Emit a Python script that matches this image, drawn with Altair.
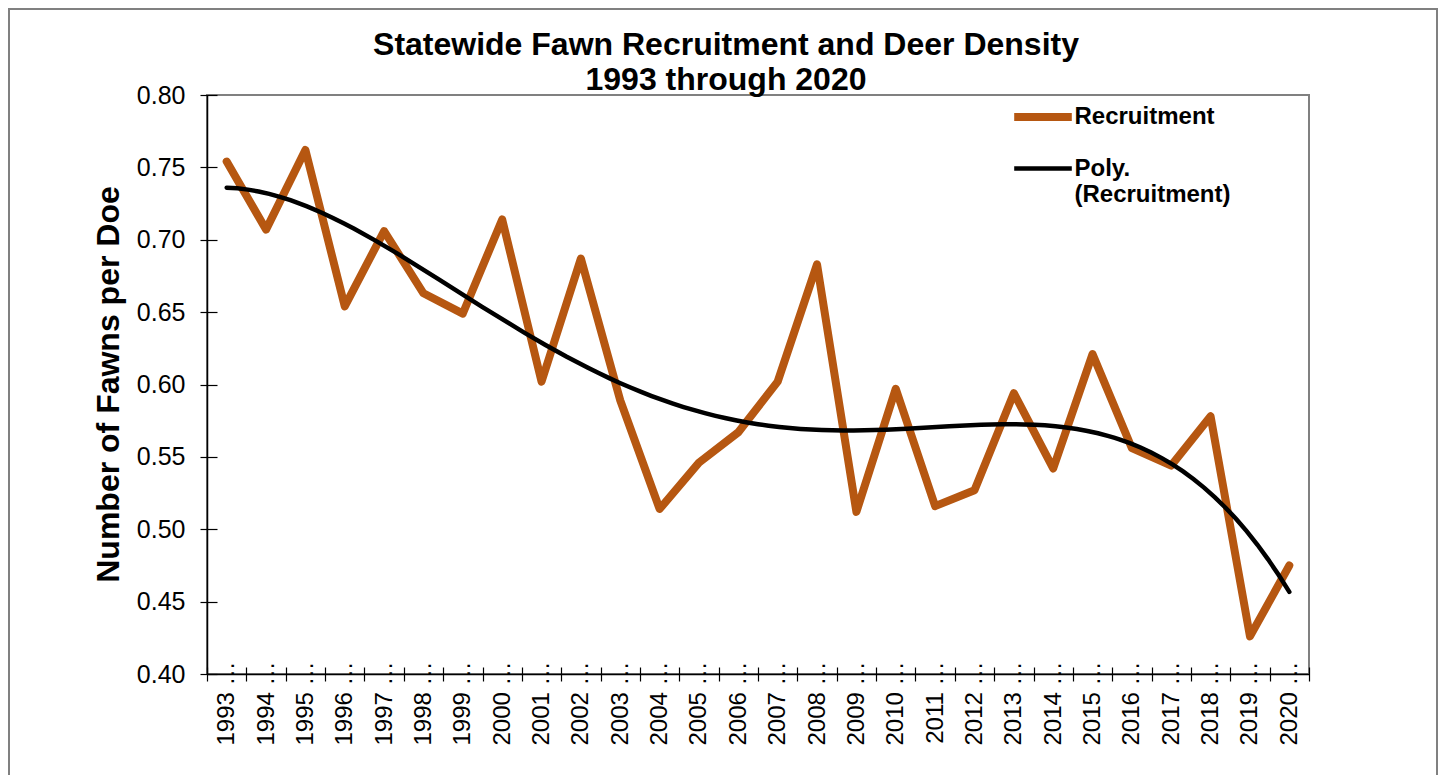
import json
import altair as alt
import pandas as pd

FONT = "Liberation Sans"

years = list(range(1993, 2021))
recruitment = [0.754, 0.707, 0.762, 0.654, 0.706, 0.663, 0.649, 0.714, 0.602, 0.687,
               0.589, 0.514, 0.546, 0.567, 0.602, 0.683, 0.512, 0.597, 0.516, 0.527,
               0.594, 0.542, 0.621, 0.556, 0.544, 0.578, 0.426, 0.475]
year_labels = ["1993 …", "1994 …", "1995 …", "1996 …", "1997 …", "1998 …", "1999 …",
               "2000 …", "2001 …", "2002 …", "2003 …", "2004 …", "2005 …", "2006 …",
               "2007 …", "2008 …", "2009 …", "2010 …", "2011 …", "2012 …", "2013 …",
               "2014 …", "2015 …", "2016 …", "2017 …", "2018 …", "2019 …", "2020 …"]
y_ticks = [0.40, 0.45, 0.50, 0.55, 0.60, 0.65, 0.70, 0.75, 0.80]
x_bounds = [1992.5 + i for i in range(29)]
series_names = ["Recruitment", "Poly. (Recruitment)"]
series_colors = ["#B65711", "#000000"]
series_widths = [8, 4.5]
title_lines = ["Statewide Fawn Recruitment and Deer Density", "1993 through 2020"]

df = pd.DataFrame({"year": years, "value": recruitment, "series": "Recruitment"})

x_scale = alt.Scale(domain=[1992.5, 2020.5], nice=False, zero=False)
y_scale = alt.Scale(domain=[0.40, 0.80], nice=False, zero=False)

label_expr = json.dumps(year_labels, ensure_ascii=False) + "[datum.value - 1993]"

legend = alt.Legend(
    title=None, orient="none", legendX=824, legendY=10,
    symbolType="M-14.4,0H14.4", symbolSize=16,
    labelFont=FONT, labelFontSize=24, labelFontWeight="bold", labelColor="black",
    labelOffset=19.5, rowPadding=23.5, padding=0, labelLimit=400,
    labelExpr="datum.label == 'Poly. (Recruitment)' ? ['Poly.', '(Recruitment)'] : datum.label",
)

color = alt.Color("series:N", scale=alt.Scale(domain=series_names, range=series_colors), legend=legend)
stroke_w = alt.StrokeWidth(
    "series:N",
    scale=alt.Scale(type="point", padding=0, domain=series_names, range=series_widths),
    legend=legend,
)

x_main = alt.Axis(
    values=years, labelExpr=label_expr, title=None, ticks=True, tickSize=0,
    tickOpacity=0, grid=False,
    domainColor="black", domainWidth=1.5, labelAngle=-90, labelAlign="right",
    labelBaseline="middle", labelPadding=-13, labelFont=FONT, labelFontSize=24,
    labelColor="black", orient="bottom", zindex=2,
)
y_main = alt.Axis(
    values=y_ticks, format=".2f", title="Number of Fawns per Doe", ticks=False, grid=False,
    domainColor="black", domainWidth=1.5, labelPadding=22, labelFont=FONT,
    labelFontSize=25, labelColor="black", titleFont=FONT, titleFontSize=32,
    titleFontWeight="bold", titleColor="black", titleAngle=270, titleX=-99, titleY=289,
    titleAlign="center", titleBaseline="middle", orient="left", zindex=2,
)
x_ticks = alt.Axis(
    values=x_bounds, labels=False, title=None, domain=False, grid=False,
    tickSize=14, offset=-7, tickColor="black", tickWidth=1.2, orient="bottom", zindex=2,
)
y_ticks_axis = alt.Axis(
    values=y_ticks, labels=False, title=None, domain=False, grid=False,
    tickSize=17, offset=-10, tickColor="black", tickWidth=1.2, orient="left", zindex=2,
)

frame = alt.Chart(pd.DataFrame({"a": [0]})).mark_rect(
    fill=None, stroke="#808080", strokeWidth=2
).encode(
    x=alt.value(-198), x2=alt.value(1230), y=alt.value(-86), y2=alt.value(760)
)

raw = alt.Chart(df).mark_line(strokeJoin="round", strokeCap="round").encode(
    x=alt.X("year:Q", scale=x_scale, axis=x_main),
    y=alt.Y("value:Q", scale=y_scale, axis=y_main),
    color=color,
    strokeWidth=stroke_w,
)

trend = alt.Chart(df).transform_regression(
    "year", "value", method="poly", order=4
).transform_calculate(series="'Poly. (Recruitment)'").mark_line(strokeCap="round").encode(
    x=alt.X("year:Q", scale=x_scale, axis=x_ticks),
    y=alt.Y("value:Q", scale=y_scale, axis=y_ticks_axis),
    color=color,
    strokeWidth=stroke_w,
)

chart = alt.layer(frame, raw, trend).resolve_axis(
    x="independent", y="independent"
).properties(
    width=1102, height=579,
    padding={"left": 199, "top": 87, "right": 131, "bottom": 101},
    autosize=alt.AutoSizeParams(type="none"),
    background="white",
    title=alt.TitleParams(
        text=title_lines, font=FONT, fontSize=32, fontWeight="bold", color="black",
        anchor="middle", frame="bounds", offset=-114, dx=3, lineHeight=35,
        baseline="alphabetic",
    ),
).configure_view(stroke="#808080", strokeWidth=2)

chart.save("out.html", embed_options={"renderer": "svg", "actions": False})
